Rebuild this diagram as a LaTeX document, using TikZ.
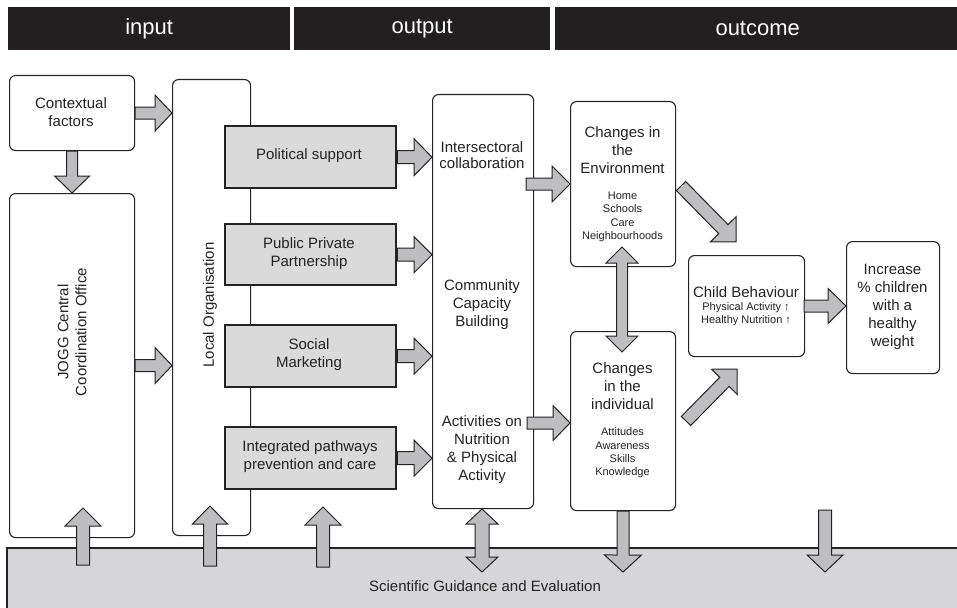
\documentclass[tikz,border=0pt]{standalone}
\usepackage{fontspec}
\setmainfont{Liberation Sans}
\usetikzlibrary{calc}
\definecolor{hdr}{RGB}{35,31,32}
\definecolor{ink}{RGB}{35,35,35}
\definecolor{arrfill}{RGB}{190,190,192}
\definecolor{boxgrey}{RGB}{218,218,218}
\definecolor{bandgrey}{RGB}{214,214,216}
\tikzset{
  wbox/.style={draw=ink, line width=1.1pt, rounded corners=6pt, fill=white, inner sep=0pt, anchor=north west},
  gbox/.style={draw=ink, line width=2.4pt, fill=boxgrey, inner sep=0pt, anchor=north west},
  fa/.style={draw=ink, line width=1pt, fill=arrfill, line join=miter},
  big/.style={font=\fontsize{15}{18}\selectfont, text=ink, align=center, inner sep=0pt},
  small/.style={font=\fontsize{11}{13.3}\selectfont, text=ink, align=center, inner sep=0pt},
  hdrbar/.style={fill=hdr, inner sep=0pt, anchor=north west, minimum height=43pt, text=white, font=\fontsize{22}{26}\selectfont}
}
% #1 style, #2 from, #3 to, #4 shaft half width, #5 head half width, #6 head length
\newcommand\fatarrow[6][fa]{%
  \path (#2); \pgfgetlastxy{\fax}{\fay}%
  \path (#3); \pgfgetlastxy{\fbx}{\fby}%
  \pgfmathsetmacro\faang{atan2(\fby-\fay,\fbx-\fax)}%
  \pgfmathsetmacro\falen{veclen(\fbx-\fax,\fby-\fay)}%
  \begin{scope}[shift={(\fax,\fay)}, rotate=\faang]
    \draw[#1] (0,-#4) -- ({\falen-#6},-#4) -- ({\falen-#6},-#5) -- (\falen,0)
      -- ({\falen-#6},#5) -- ({\falen-#6},#4) -- (0,#4) -- cycle;
  \end{scope}}
\newcommand\dblarrow[6][fa]{%
  \path (#2); \pgfgetlastxy{\fax}{\fay}%
  \path (#3); \pgfgetlastxy{\fbx}{\fby}%
  \pgfmathsetmacro\faang{atan2(\fby-\fay,\fbx-\fax)}%
  \pgfmathsetmacro\falen{veclen(\fbx-\fax,\fby-\fay)}%
  \begin{scope}[shift={(\fax,\fay)}, rotate=\faang]
    \draw[#1] (#6,-#4) -- ({\falen-#6},-#4) -- ({\falen-#6},-#5) -- (\falen,0)
      -- ({\falen-#6},#5) -- ({\falen-#6},#4) -- (#6,#4) -- (#6,#5) -- (0,0)
      -- (#6,-#5) -- cycle;
  \end{scope}}
\begin{document}
\begin{tikzpicture}[x=1pt, y=-1pt]
\useasboundingbox (0,0) rectangle (957,607);
\fill[white] (0,0) rectangle (957,607);

% header
\node[hdrbar, minimum width=282pt] (hin) at (8,7) {input};
\node[hdrbar, minimum width=256pt] (hout) at (294,7) {output};
\node[hdrbar, minimum width=405pt] (hoc) at (555,7) {outcome};

% band
\node[fill=bandgrey, inner sep=0pt, anchor=north west, minimum width=960pt, minimum height=70pt] (band) at (7,548) {};
\draw[ink, line width=2.6pt] (band.south west) -- (band.north west) -- (band.north east);
\node[big] (sge) at (485,586) {Scientific Guidance and Evaluation};

% white boxes
\node[wbox, minimum width=125pt, minimum height=75pt] (ctx) at (9,75) {};
\node[wbox, minimum width=125pt, minimum height=344pt] (jogg) at (9,193) {};
\node[wbox, minimum width=78pt, minimum height=456pt] (local) at (172,79) {};
\node[wbox, minimum width=101pt, minimum height=414pt] (outbox) at (432,94) {};
\node[wbox, minimum width=105pt, minimum height=165pt] (env) at (570,101) {};
\node[wbox, minimum width=105pt, minimum height=179pt] (indiv) at (570,331) {};
\node[wbox, minimum width=116pt, minimum height=101pt] (child) at (688,255) {};
\node[wbox, minimum width=93pt, minimum height=132pt] (incr) at (846,241) {};

% grey boxes
\node[gbox, minimum width=171pt, minimum height=62pt] (pol) at (224,125) {};
\node[gbox, minimum width=171pt, minimum height=61pt] (ppp) at (224,223) {};
\node[gbox, minimum width=171pt, minimum height=62pt] (soc) at (224,324) {};
\node[gbox, minimum width=171pt, minimum height=62pt] (int) at (224,426) {};

% texts
\node[big] at (71,112.5) {Contextual\\factors};
\node[big, rotate=90] at (72,332) {JOGG Central\\Coordination Office};
\node[big, rotate=90] at (210,305) {Local Organisation};
\node[big] at (309,156) {Political support};
\node[big] at (309,253.5) {Public Private\\Partnership};
\node[big] at (309,355) {Social\\Marketing};
\node[big] at (310,457) {Integrated pathways\\prevention and care};
\node[big, font=\fontsize{15}{16.7}\selectfont] at (482,155) {Intersectoral\\collaboration};
\node[big] at (482,305) {Community\\Capacity\\Building};
\node[big] at (482,450) {Activities on\\Nutrition\\\& Physical\\Activity};
\node[big] at (622.5,150) {Changes in\\the\\Environment};
\node[small] at (622.5,217) {Home\\Schools\\Care\\Neighbourhoods};
\node[big] at (622.5,386.5) {Changes\\in the\\individual};
\node[small] at (622.5,453) {Attitudes\\Awareness\\Skills\\Knowledge};
\node[big] at (746,292) {Child Behaviour};
\node[small] at (746,314.5) {Physical Activity ↑\\Healthy Nutrition ↑};
\node[big] at (892.5,306.5) {Increase\\\% children\\with a\\healthy\\weight};

% arrow end points
\coordinate (a1) at (526,184);
\coordinate (a2) at (527,423);
\coordinate (d1) at (622,247);
\coordinate (d2) at (622,352);
\coordinate (b1) at (623,572);
\coordinate (r1) at (825,510);
\coordinate (r2) at (825,572);
\coordinate (u1) at (83,565);
\coordinate (u1t) at (83,508);
\coordinate (u2) at (210,566);
\coordinate (u2t) at (210,506);
\coordinate (u3) at (323,567);
\coordinate (u3t) at (323,507);
\coordinate (o1) at (482,509);
\coordinate (o2) at (482,572);
\coordinate (e1) at (681,186);
\coordinate (e2) at (736,242);
\coordinate (i1) at (686,421);
\coordinate (i2) at (737,369);
\coordinate (c1) at (804,306);

% arrows
\fatarrow{ctx.east}{ctx.east -| local.west}{6}{18}{17}
\fatarrow{ctx.south}{jogg.north}{5.5}{17.5}{17}
\fatarrow{jogg.east}{jogg.east -| local.west}{6}{18}{17}
\fatarrow{pol.east}{pol.east -| outbox.west}{6.5}{18.5}{18}
\fatarrow{ppp.east}{ppp.east -| outbox.west}{6.5}{18}{18}
\fatarrow{soc.east}{soc.east -| outbox.west}{6.5}{18}{18}
\fatarrow{int.east}{int.east -| outbox.west}{6.5}{18}{18}
\fatarrow{a1}{a1 -| env.west}{6}{18}{18}
\fatarrow{a2}{a2 -| indiv.west}{6}{17.5}{17}
\dblarrow{d1}{d2}{5.5}{16}{16}
\fatarrow{indiv.south}{b1}{6}{18.5}{17}
\fatarrow{r1}{r2}{6.5}{18}{17}
\fatarrow{u1}{u1t}{6.5}{18}{18}
\fatarrow{u2}{u2t}{6.5}{17.5}{18}
\fatarrow{u3}{u3t}{6.5}{18}{18}
\dblarrow{o1}{o2}{7}{16}{15}
\fatarrow{e1}{e2}{6.5}{18}{18}
\fatarrow{i1}{i2}{6.5}{18}{18}
\fatarrow{c1}{c1 -| incr.west}{6}{17.5}{18}
\end{tikzpicture}
\end{document}
